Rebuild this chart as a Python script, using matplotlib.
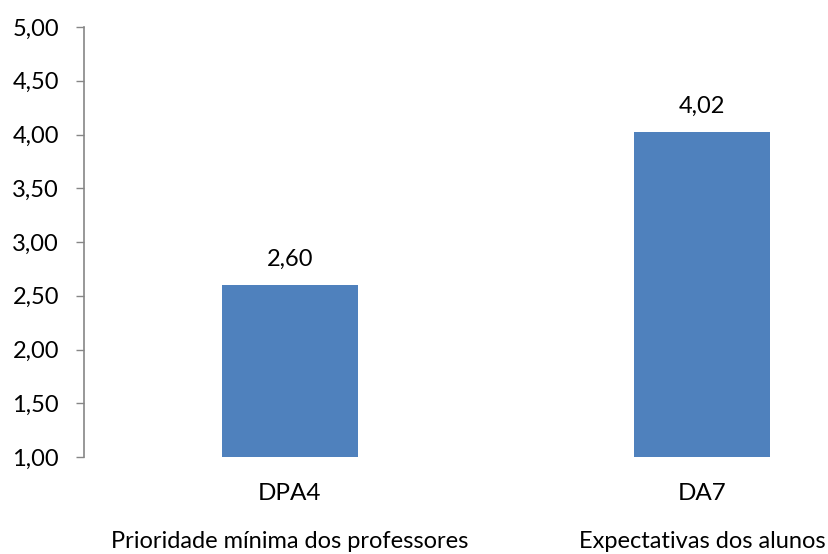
import matplotlib.pyplot as plt
import matplotlib.transforms as mtransforms

# --- dados ---
codigos = ['DPA4', 'DA7']
descricoes = ['Prioridade mínima dos professores', 'Expectativas dos alunos']
valores = [2.60, 4.02]
yticks = [1.0, 1.5, 2.0, 2.5, 3.0, 3.5, 4.0, 4.5, 5.0]

plt.rcParams['font.family'] = ['Lato', 'DejaVu Sans']

fig = plt.figure(figsize=(8.29, 5.54), dpi=100)
ax = fig.add_axes([84 / 829, 97 / 554, (829 - 84) / 829, 430 / 554])

x = list(range(len(codigos)))
ax.bar(x, [v - 1.0 for v in valores], bottom=1.0, width=0.33,
       color='#4F81BD', zorder=2)

# rótulos de valor acima das barras
for xi, v in zip(x, valores):
    ax.annotate(f'{v:.2f}'.replace('.', ','), xy=(xi, v), xytext=(0, 13.7),
                textcoords='offset points', ha='center', va='baseline',
                fontsize=17, color='black')

ax.set_ylim(1.0, 5.0)
ax.set_xlim(-0.5, -0.5 + 745 / 412)
ax.set_yticks(yticks)
ax.set_yticklabels([f'{t:.2f}'.replace('.', ',') for t in yticks], fontsize=17)
ax.tick_params(axis='y', length=6, width=1, color='#868686', pad=12)

ax.set_xticks([])
trans = mtransforms.blended_transform_factory(ax.transData, ax.transAxes)
for xi, c, d in zip(x, codigos, descricoes):
    ax.text(xi, -0.1, c, transform=trans, ha='center', va='baseline', fontsize=17.5)
    ax.text(xi, -0.2116, d, transform=trans, ha='center', va='baseline', fontsize=17)

for s in ['top', 'right', 'bottom']:
    ax.spines[s].set_visible(False)
ax.spines['left'].set_color('#868686')
ax.spines['left'].set_linewidth(1.2)

fig.savefig('out.png', dpi=100)
